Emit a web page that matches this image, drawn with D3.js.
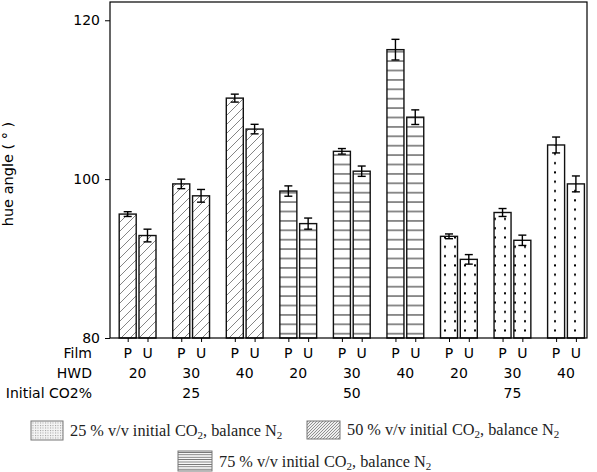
<!DOCTYPE html>
<html><head><meta charset="utf-8">
<script src="https://cdn.jsdelivr.net/npm/d3@7"></script>
<style>body{margin:0;background:#fff}svg{display:block}</style>
</head><body>
<svg id="c" width="597" height="472"></svg>
<script>
// ---- data ----
const co2Levels = ["25", "50", "75"];
const hwdLevels = ["20", "30", "40"];
const films = ["P", "U"];
const valuesP = [95.6, 99.4, 110.2, 98.5, 103.5, 116.3, 92.8, 95.8, 104.3];
const valuesU = [92.9, 97.9, 106.3, 94.4, 101.0, 107.8, 89.9, 92.3, 99.4];
const errP = [0.3, 0.6, 0.5, 0.65, 0.35, 1.3, 0.3, 0.5, 1.0];
const errU = [0.8, 0.8, 0.6, 0.7, 0.65, 0.92, 0.6, 0.65, 1.0];
const yTicks = [80, 100, 120];
const legendLabels = ["25 % v/v initial CO", "50 % v/v initial CO", "75 % v/v initial CO"];

const svg = d3.select("#c");
const L = 110, R = 587, T = 2, B = 338;
const y = d3.scaleLinear().domain([80, 122.3]).range([B, T]);
const pairIdx = d3.range(9);
const xPair = d3.scalePoint().domain(pairIdx).range([137.6, 566]);
const off = 9.9, bw = 17;

// patterns
const defs = svg.append("defs");
const pHatch = defs.append("pattern").attr("id", "hatch").attr("patternUnits", "userSpaceOnUse").attr("width", 9).attr("height", 9);
pHatch.append("rect").attr("width", 9).attr("height", 9).attr("fill", "#fff");
pHatch.append("path").attr("d", "M-1,10 L10,-1 M-2,2 L2,-2 M7,11 L11,7").attr("stroke", "#777").attr("stroke-width", 0.9);
const pHor = defs.append("pattern").attr("id", "hor").attr("patternUnits", "userSpaceOnUse").attr("width", 20).attr("height", 9.4);
pHor.append("rect").attr("width", 20).attr("height", 9.4).attr("fill", "#fff");
pHor.append("line").attr("x1", 0).attr("x2", 20).attr("y1", 4.7).attr("y2", 4.7).attr("stroke", "#444").attr("stroke-width", 1.2);
const pDot = defs.append("pattern").attr("id", "dot").attr("patternUnits", "userSpaceOnUse").attr("width", 10).attr("height", 9.3);
pDot.append("rect").attr("width", 10).attr("height", 9.3).attr("fill", "#fff");
pDot.append("rect").attr("x", 4).attr("y", 4).attr("width", 2).attr("height", 2).attr("fill", "#000");
// legend patterns
const lDot = defs.append("pattern").attr("id", "ldot").attr("patternUnits", "userSpaceOnUse").attr("width", 2.5).attr("height", 2.5);
lDot.append("rect").attr("width", 2.5).attr("height", 2.5).attr("fill", "#f4f4f4");
lDot.append("rect").attr("width", 1).attr("height", 1).attr("fill", "#999");
const lHatch = defs.append("pattern").attr("id", "lhatch").attr("patternUnits", "userSpaceOnUse").attr("width", 3).attr("height", 3);
lHatch.append("rect").attr("width", 3).attr("height", 3).attr("fill", "#eee");
lHatch.append("path").attr("d", "M-1,4 L4,-1").attr("stroke", "#777").attr("stroke-width", 0.8);
const lHor = defs.append("pattern").attr("id", "lhor").attr("patternUnits", "userSpaceOnUse").attr("width", 4).attr("height", 2.4);
lHor.append("rect").attr("width", 4).attr("height", 2.4).attr("fill", "#fff");
lHor.append("line").attr("x1", 0).attr("x2", 4).attr("y1", 1.2).attr("y2", 1.2).attr("stroke", "#666").attr("stroke-width", 0.9);

const groupFill = ["url(#hatch)", "url(#hor)", "url(#dot)"];

// bars data
const bars = [];
pairIdx.forEach(i => {
  bars.push({i, film: "P", v: valuesP[i], e: errP[i], cx: xPair(i) - off, g: Math.floor(i / 3)});
  bars.push({i, film: "U", v: valuesU[i], e: errU[i], cx: xPair(i) + off, g: Math.floor(i / 3)});
});

const plot = svg.append("g");
plot.selectAll("rect.bar").data(bars).join("rect").attr("class", "bar")
  .attr("x", d => d.cx - bw / 2).attr("width", bw)
  .attr("y", d => y(d.v)).attr("height", d => B - y(d.v))
  .attr("fill", d => groupFill[d.g]).attr("stroke", "#111").attr("stroke-width", 1.4);

// error bars
const eb = plot.selectAll("g.eb").data(bars).join("g").attr("stroke", "#000").attr("stroke-width", 1.4);
eb.append("line").attr("x1", d => d.cx).attr("x2", d => d.cx).attr("y1", d => y(d.v + d.e)).attr("y2", d => y(d.v - d.e));
eb.append("line").attr("x1", d => d.cx - 4).attr("x2", d => d.cx + 4).attr("y1", d => y(d.v + d.e)).attr("y2", d => y(d.v + d.e));
eb.append("line").attr("x1", d => d.cx - 4).attr("x2", d => d.cx + 4).attr("y1", d => y(d.v - d.e)).attr("y2", d => y(d.v - d.e));

// frame
svg.append("rect").attr("x", L).attr("y", T).attr("width", R - L).attr("height", B - T)
  .attr("fill", "none").attr("stroke", "#000").attr("stroke-width", 1.2);

// y axis
const yAx = svg.append("g").attr("transform", `translate(${L},0)`)
  .call(d3.axisLeft(y).tickValues(yTicks).tickSize(5).tickPadding(5).tickFormat(d3.format("d")));
yAx.select(".domain").remove();
yAx.selectAll("text").attr("font-family", "DejaVu Sans, Verdana, sans-serif").attr("font-size", 14).attr("fill", "#000");
yAx.selectAll("line").attr("stroke", "#000");

// x axis ticks at bar centres
const xAx = svg.append("g").attr("transform", `translate(0,${B})`)
  .call(d3.axisBottom(d3.scaleIdentity()).tickValues(bars.map(d => d.cx)).tickSize(4).tickFormat(""));
xAx.select(".domain").remove();
xAx.selectAll("line").attr("stroke", "#000");

const font = "DejaVu Sans, Verdana, sans-serif";
const rows = [{label: "Film", y: 358}, {label: "HWD", y: 378}, {label: "Initial CO2%", y: 398}];
svg.selectAll("text.rowlab").data(rows).join("text").attr("class", "rowlab")
  .attr("x", 92).attr("y", d => d.y).attr("text-anchor", "end")
  .attr("font-family", font).attr("font-size", 14).text(d => d.label);
svg.selectAll("text.film").data(bars).join("text").attr("class", "film")
  .attr("x", d => d.cx).attr("y", 358).attr("text-anchor", "middle")
  .attr("font-family", font).attr("font-size", 14).text(d => d.film);
svg.selectAll("text.hwd").data(pairIdx).join("text").attr("class", "hwd")
  .attr("x", i => xPair(i)).attr("y", 378).attr("text-anchor", "middle")
  .attr("font-family", font).attr("font-size", 14).text(i => hwdLevels[i % 3]);
svg.selectAll("text.co2").data(co2Levels).join("text").attr("class", "co2")
  .attr("x", (d, g) => xPair(g * 3 + 1)).attr("y", 398).attr("text-anchor", "middle")
  .attr("font-family", font).attr("font-size", 14).text(d => d);

// y label
svg.append("text").attr("transform", "translate(13,174) rotate(-90)").attr("text-anchor", "middle")
  .attr("font-family", font).attr("font-size", 14.5).text("hue angle ( ° )");

// legend
const legend = [
  {label: legendLabels[0], fill: "url(#ldot)", x: 31, y: 421, w: 32, h: 19},
  {label: legendLabels[1], fill: "url(#lhatch)", x: 307, y: 421, w: 33, h: 18},
  {label: legendLabels[2], fill: "url(#lhor)", x: 178, y: 451, w: 34, h: 20}
];
const lg = svg.selectAll("g.lg").data(legend).join("g").attr("class", "lg");
lg.append("rect").attr("x", d => d.x).attr("y", d => d.y).attr("width", d => d.w).attr("height", d => d.h)
  .attr("fill", d => d.fill).attr("stroke", "#777").attr("stroke-width", 1);
const lt = lg.append("text").attr("x", d => d.x + d.w + 7).attr("y", d => d.y + d.h - 4)
  .attr("font-family", "Liberation Serif, Times New Roman, serif").attr("font-size", 16.3).attr("fill", "#222");
lt.append("tspan").text(d => d.label);
lt.append("tspan").attr("font-size", 11).attr("dy", 3).text("2");
lt.append("tspan").attr("dy", -3).text(", balance N");
lt.append("tspan").attr("font-size", 11).attr("dy", 3).text("2");
</script>
</body></html>
